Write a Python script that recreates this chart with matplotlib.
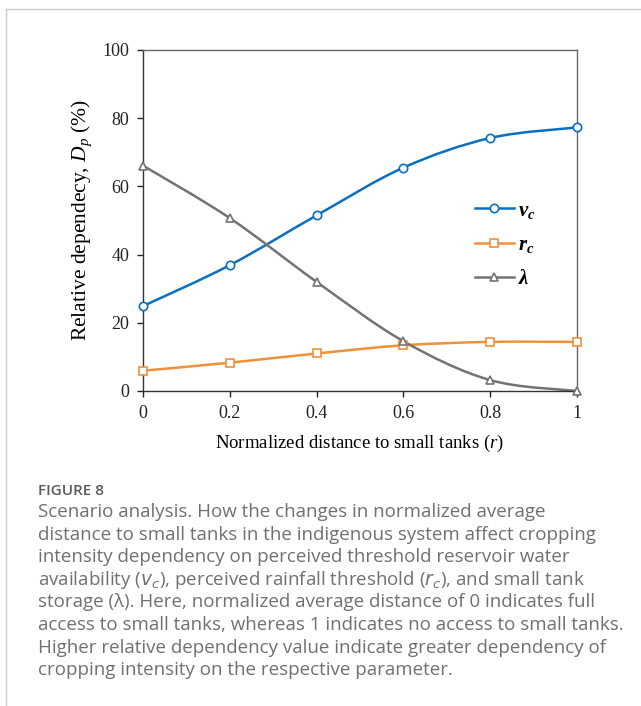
import numpy as np
import matplotlib
matplotlib.use('Agg')
import matplotlib.pyplot as plt
from matplotlib.path import Path
from matplotlib.patches import PathPatch
from matplotlib.lines import Line2D

plt.rcParams['font.family'] = ['Liberation Serif', 'DejaVu Serif']
plt.rcParams['mathtext.fontset'] = 'custom'
plt.rcParams['mathtext.rm'] = 'Liberation Serif'
plt.rcParams['mathtext.it'] = 'Liberation Serif:italic'
plt.rcParams['mathtext.bf'] = 'Liberation Serif:bold:italic'

# 数据：归一化距离与三种参数的相对依赖度 (%)
r = [0, 0.2, 0.4, 0.6, 0.8, 1.0]
vc = [24.9, 36.9, 51.5, 65.5, 74.2, 77.3]
rc = [5.95, 8.3, 11.0, 13.4, 14.4, 14.4]
lam = [66.1, 50.7, 32.0, 14.6, 3.2, 0.0]
xticks = [0, 0.2, 0.4, 0.6, 0.8, 1]
xticklabels = ['0', '0.2', '0.4', '0.6', '0.8', '1']
yticks = [0, 20, 40, 60, 80, 100]

caption_title = 'FIGURE 8'
caption_lines = [
    'Scenario analysis. How the changes in normalized average',
    'distance to small tanks in the indigenous system affect cropping',
    'intensity dependency on perceived threshold reservoir water',
    r'availability ($v_c$), perceived rainfall threshold ($r_c$), and small tank',
    'storage (\u03bb). Here, normalized average distance of 0 indicates full',
    'access to small tanks, whereas 1 indicates no access to small tanks.',
    'Higher relative dependency value indicate greater dependency of',
    'cropping intensity on the respective parameter.',
]


def smooth_path(x, y):
    # Excel 风格平滑线 (Catmull-Rom -> Bezier)
    pts = np.column_stack([x, y])
    n = len(pts)
    verts = [pts[0]]
    codes = [Path.MOVETO]
    for i in range(n - 1):
        p0 = pts[i - 1] if i > 0 else pts[i]
        p1 = pts[i]
        p2 = pts[i + 1]
        p3 = pts[i + 2] if i + 2 < n else pts[i + 1]
        c1 = p1 + (p2 - p0) / 6.0
        c2 = p2 - (p3 - p1) / 6.0
        verts += [c1, c2, p2]
        codes += [Path.CURVE4] * 3
    return Path(verts, codes)


fig = plt.figure(figsize=(6.41, 7.06), dpi=100)
ax = fig.add_axes([143 / 641, 1 - 391 / 706, 434 / 641, 341 / 706])

series = [
    (vc, '#0A6FC2', 'o', r'$\mathbf{v_c}$'),
    (rc, '#F0913A', 's', r'$\mathbf{r_c}$'),
    (lam, '#737373', '^', r'$\mathbf{\lambda}$'),
]
handles = []
for vals, col, mk, lab in series:
    ax.add_patch(PathPatch(smooth_path(r, vals), facecolor='none', edgecolor=col,
                           lw=1.8, zorder=2, clip_on=False))
    ax.plot(r, vals, linestyle='none', marker=mk, ms=6, mfc='white', mec=col,
            mew=1.2, zorder=3, clip_on=False)
    handles.append(Line2D([], [], color=col, lw=1.8, marker=mk, ms=6,
                          mfc='white', mec=col, mew=1.2, label=lab))

ax.set_xlim(0, 1)
ax.set_ylim(0, 100)
ax.set_xticks(xticks)
ax.set_xticklabels(xticklabels)
ax.set_yticks(yticks)
ax.tick_params(direction='out', length=4, width=1, labelsize=13, colors='#222222', pad=6)
for s in ['left', 'bottom']:
    ax.spines[s].set_color('#333333')
for s in ['top', 'right']:
    ax.spines[s].set_color('#666666')
for s in ax.spines.values():
    s.set_linewidth(1.0)

ax.set_xlabel('Normalized distance to small tanks ($r$)', fontsize=13.5, labelpad=8)
ax.set_ylabel('Relative dependecy, $D_p$ (%)', fontsize=15.5, labelpad=6)

ax.legend(handles=handles, loc='center left', bbox_to_anchor=(475 / 641, 1 - 245 / 706),
          bbox_transform=fig.transFigure, frameon=False, fontsize=15,
          handlelength=1.85, handletextpad=0.2, labelspacing=0.7,
          borderpad=0, borderaxespad=0)

# 外框线
fig.add_artist(Line2D([6 / 641, 6 / 641], [0, 1 - 9 / 706], color='#cccccc', lw=1,
                      transform=fig.transFigure))
fig.add_artist(Line2D([6 / 641, 1], [1 - 9 / 706, 1 - 9 / 706], color='#cccccc', lw=1,
                      transform=fig.transFigure))

# 图注
cap_font = ['Open Sans', 'DejaVu Sans']
fig.text(38 / 641, 1 - 491 / 706, caption_title, fontsize=11, fontweight='semibold',
         color='#5a5a5a', family=cap_font, va='center')
for i, line in enumerate(caption_lines):
    y = 512 + i * 22.6
    fig.text(38 / 641, 1 - y / 706, line, fontsize=13.5, color='#707070', family=cap_font,
             va='center', math_fontfamily='dejavusans')

fig.savefig('out.png', dpi=100)
